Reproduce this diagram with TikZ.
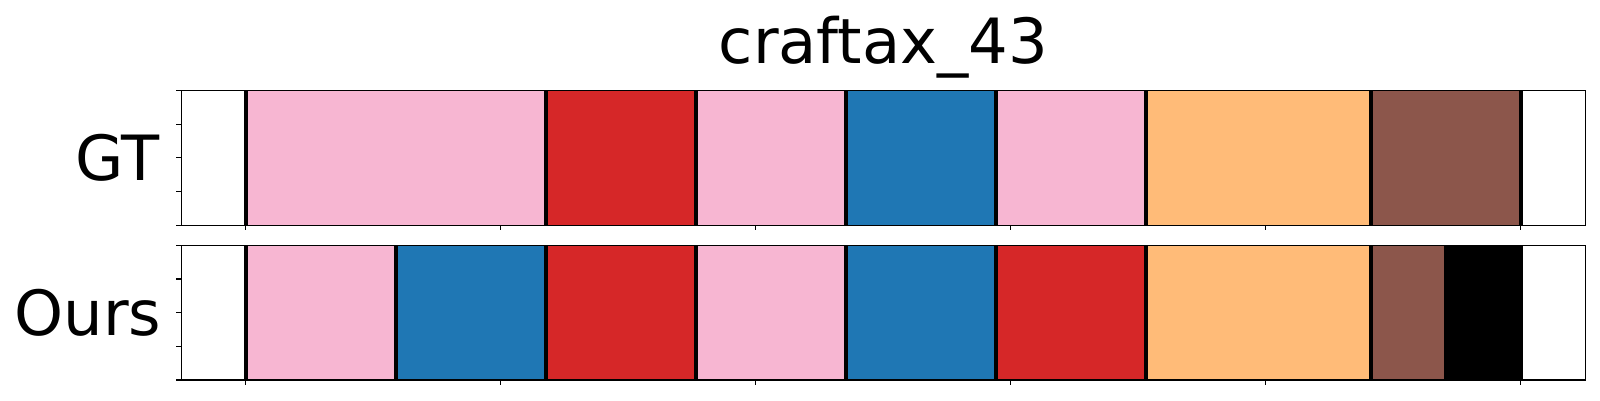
\documentclass[tikz,border=0pt]{standalone}
\usepackage{fontspec}
\setmainfont{DejaVu Sans}
\definecolor{cpink}{HTML}{F7B6D2}
\definecolor{cred}{HTML}{D62728}
\definecolor{cblue}{HTML}{1F77B4}
\definecolor{corange}{HTML}{FFBB78}
\definecolor{cbrown}{HTML}{8C564B}
\tikzset{
  seg/.style={fill=#1, draw=none},
  sep/.style={line width=4bp, black},
  spine/.style={line width=1.1bp, black, line cap=rect},
  tickmark/.style={line width=1.1bp, black},
  bigtext/.style={font=\fontsize{62.6}{72}\selectfont, inner sep=0pt, text=black}
}
\begin{document}
\begin{tikzpicture}[x=1bp,y=-1bp]
\path[use as bounding box, fill=white] (0,0) rectangle (1600,400);
% panel geometry
\def\axL{181.3}\def\axR{1585.3}
% GT segments (top panel 90.5 -- 225.3)
\foreach \a/\b/\c in {245.5/545.5/cpink, 545.5/695.5/cred, 695.5/845.5/cpink, 845.5/995.5/cblue, 995.5/1145.5/cpink, 1145.5/1370.5/corange, 1370.5/1520.5/cbrown}
  \path[seg=\c] (\a,90.5) rectangle (\b,225.3);
\foreach \a in {245.5,545.5,695.5,845.5,995.5,1145.5,1370.5,1520.5}
  \draw[sep] (\a,90.5) -- (\a,225.3);
% Ours segments (bottom panel 245.3 -- 380)
\foreach \a/\b/\c in {245.5/395.5/cpink, 395.5/545.5/cblue, 545.5/695.5/cred, 695.5/845.5/cpink, 845.5/995.5/cblue, 995.5/1145.5/cred, 1145.5/1370.5/corange, 1370.5/1445.5/cbrown, 1445.5/1520.5/black}
  \path[seg=\c] (\a,245.3) rectangle (\b,380);
\foreach \a in {245.5,395.5,545.5,695.5,845.5,995.5,1145.5,1370.5,1445.5,1520.5}
  \draw[sep] (\a,245.3) -- (\a,380);
% frames
\draw[spine] (\axL,90.5) rectangle (\axR,225.3);
\draw[spine] (\axL,245.3) rectangle (\axR,380);
% y ticks
\foreach \k in {0,1,2,3,4} {
  \draw[tickmark] (\axL,90.5+33.7*\k) -- ++(-4.9,0);
  \draw[tickmark] (\axL,245.3+33.675*\k) -- ++(-4.9,0);
}
% x ticks
\foreach \k in {0,1,2,3,4,5} {
  \draw[tickmark] (245.5+255*\k,225.3) -- ++(0,4.9);
  \draw[tickmark] (245.5+255*\k,380) -- ++(0,4.9);
}
% texts
\node[bigtext, anchor=base] (title) at (883.3,63) {craftax\_43};
\node[bigtext, anchor=east] (gt) at (160,157.9) {GT};
\node[bigtext, anchor=east] (ours) at (161.5,312.7) {Ours};
\end{tikzpicture}
\end{document}
